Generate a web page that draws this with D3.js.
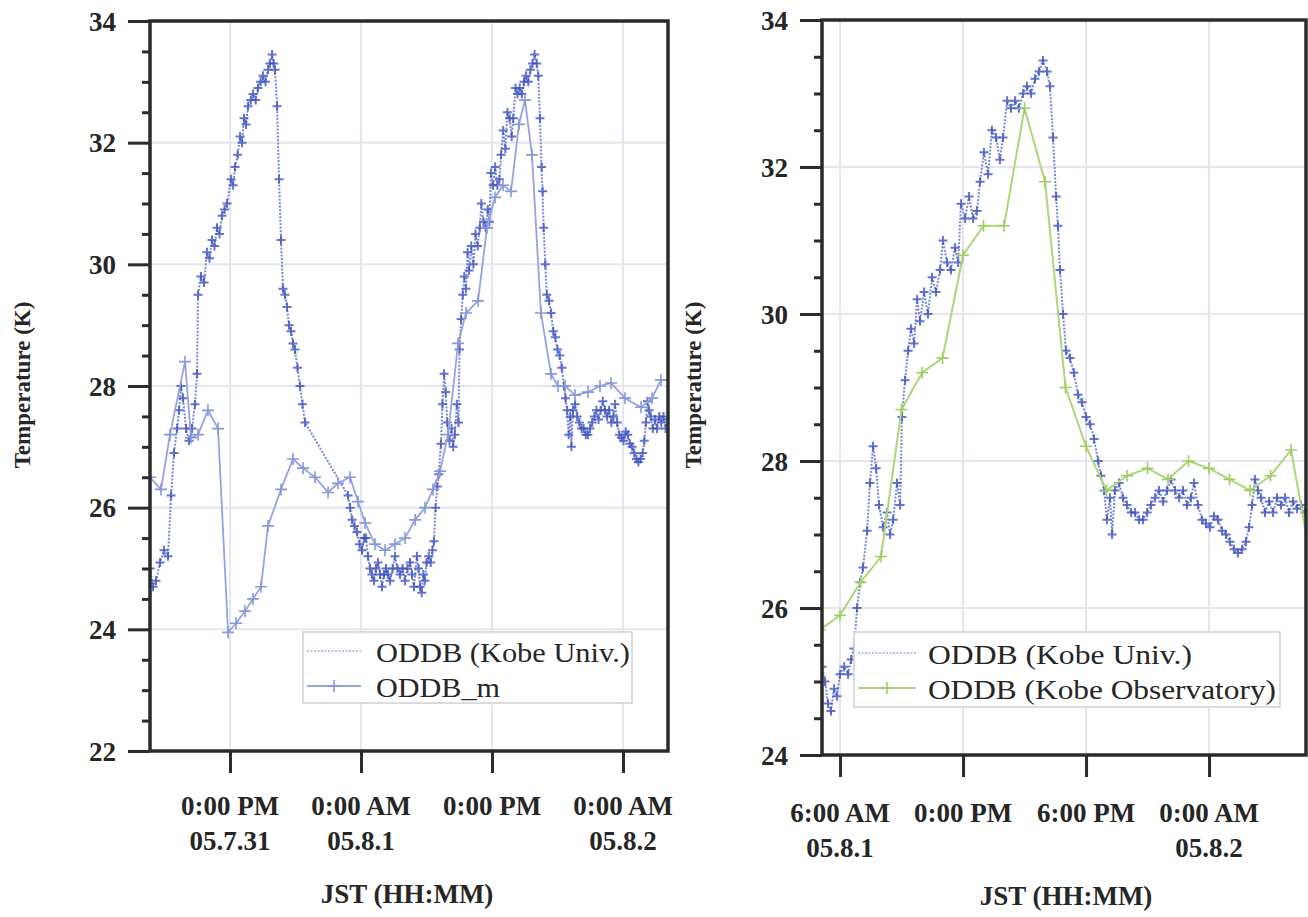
<!DOCTYPE html>
<html>
<head>
<meta charset="utf-8">
<script src="https://cdn.jsdelivr.net/npm/d3@7"></script>
<style>
  html, body { margin: 0; padding: 0; background: #fff; }
  svg { display: block; }
  text { font-family: "Liberation Serif", "Times New Roman", Tinos, serif; fill: #262626; }
  .tick-label { font-size: 27px; font-weight: bold; }
  .axis-title { font-size: 27px; font-weight: bold; }
  .y-title { font-size: 23px; font-weight: bold; }
  .legend-text { font-size: 27px; }
</style>
</head>
<body>
<svg id="chart" width="1308" height="917"></svg>
<script>
// x values are hours counted from 2005-07-31 00:00 JST, y values are temperatures
const kobeUniv = [
  [4.67,25.0],[4.95,24.7],[5.22,24.8],[5.59,25.1],[5.95,25.3],[6.32,25.2],[6.60,26.2],[6.87,26.9],
  [7.15,27.3],[7.33,27.6],[7.51,28.0],[7.69,27.8],[7.97,27.3],[8.24,27.1],[8.52,27.3],[8.79,27.7],
  [8.98,28.2],[9.07,29.5],[9.34,29.8],[9.62,29.7],[9.89,30.2],[10.12,30.1],[10.35,30.4],[10.58,30.3],
  [10.81,30.6],[11.04,30.5],[11.27,30.8],[11.5,30.9],[11.73,31.0],[12.09,31.4],[12.28,31.3],[12.46,31.6],
  [12.7,31.8],[12.92,32.1],[13.1,32.0],[13.28,32.4],[13.47,32.3],[13.65,32.6],[13.9,32.7],[14.11,32.8],
  [14.35,32.7],[14.56,32.9],[14.8,33.0],[15.02,33.1],[15.25,33.0],[15.48,33.2],[15.65,33.3],[15.85,33.45],
  [16.0,33.3],[16.12,33.2],[16.31,32.6],[16.49,31.4],[16.67,30.4],[16.85,29.6],[17.03,29.5],[17.22,29.3],
  [17.4,29.0],[17.59,28.9],[17.77,28.7],[17.95,28.6],[18.18,28.3],[18.41,28.0],[18.64,27.7],[18.87,27.4],
  [22.81,26.2],[23.0,26.0],[23.18,25.8],[23.4,25.7],[23.63,25.6],[23.86,25.4],[24.09,25.3],[24.28,25.5],
  [24.46,25.5],[24.64,25.2],[24.82,25.0],[25.0,24.9],[25.19,24.8],[25.37,25.0],[25.56,25.1],[25.74,24.9],
  [25.92,24.7],[26.1,24.9],[26.29,25.0],[26.47,24.9],[26.66,24.8],[26.89,25.0],[27.11,25.2],[27.34,25.0],
  [27.57,24.9],[27.8,25.0],[28.03,24.8],[28.26,25.0],[28.49,25.1],[28.67,24.9],[28.85,24.7],
  [29.12,25.2],[29.27,25.0],[29.41,24.7],[29.56,24.6],[29.71,24.9],[29.85,24.8],[30.0,25.1],[30.2,25.2],
  [30.39,25.1],[30.54,25.3],[30.68,25.45],[30.83,26.0],[30.98,26.35],[31.12,26.55],[31.32,27.05],[31.46,27.7],
  [31.61,28.2],[31.76,27.9],[31.9,27.4],[32.1,27.1],[32.29,27.3],[32.44,27.0],[32.59,27.2],[32.78,27.7],
  [32.93,27.4],[33.02,28.6],[33.17,29.1],[33.32,29.5],[33.46,29.8],[33.61,29.6],[33.76,30.2],[33.9,29.9],
  [34.1,30.3],[34.29,30.0],[34.49,30.5],[34.68,30.3],[34.88,30.6],[35.02,31.0],[35.22,30.7],[35.41,30.6],
  [35.61,30.9],[35.76,30.7],[35.9,31.5],[36.1,31.3],[36.29,31.6],[36.49,31.3],[36.68,31.4],[36.83,31.8],
  [37.02,32.2],[37.22,31.9],[37.41,32.5],[37.61,32.4],[37.8,32.1],[37.95,32.4],[38.15,32.9],[38.34,32.8],
  [38.54,32.9],[38.73,32.8],[38.93,33.0],[39.12,33.1],[39.32,33.0],[39.51,33.2],[39.71,33.3],[39.9,33.45],
  [40.1,33.3],[40.24,33.1],[40.39,32.4],[40.54,31.6],[40.63,31.2],[40.73,30.6],[40.88,30.0],[41.02,29.5],
  [41.22,29.4],[41.41,29.2],[41.61,28.9],[41.8,28.8],[42.0,28.6],[42.2,28.5],[42.39,28.3],[42.59,28.0],
  [42.73,27.8],[42.88,27.6],[43.02,27.2],[43.17,27.5],[43.27,27.0],[43.41,27.6],[43.61,27.7],[43.8,27.5],
  [44.0,27.4],[44.2,27.3],[44.39,27.3],[44.59,27.2],[44.78,27.2],[44.98,27.3],[45.17,27.4],[45.37,27.5],
  [45.56,27.6],[45.76,27.45],[45.95,27.6],[46.15,27.75],[46.34,27.6],[46.54,27.5],[46.73,27.6],[46.93,27.4],
  [47.12,27.5],[47.27,27.7],[47.46,27.4],[47.66,27.2],[47.85,27.15],[48.05,27.1],[48.24,27.25],[48.44,27.2],
  [48.63,27.05],[48.83,27.0],[49.02,26.9],[49.22,26.8],[49.41,26.75],[49.61,26.8],[49.8,26.9],[49.95,27.1],
  [50.1,27.4],[50.24,27.75],[50.39,27.6],[50.54,27.5],[50.73,27.3],[50.93,27.45],[51.12,27.3],[51.32,27.5],
  [51.51,27.4],[51.71,27.5],[51.9,27.3],[52.1,27.45],[52.29,27.35],[52.49,27.4],[52.68,27.3],[52.88,27.35]
];

const oddbM = [
  [4.67,26.5],[5.68,26.3],[6.50,27.2],[7.88,28.4],[8.43,27.15],[9.07,27.2],[9.98,27.6],[10.90,27.3],
  [11.82,23.95],[12.55,24.1],[13.37,24.3],[14.11,24.5],[14.84,24.7],[15.48,25.7],[16.67,26.3],[17.77,26.8],
  [18.69,26.65],[19.79,26.5],[20.98,26.25],[21.89,26.4],[22.99,26.5],[23.72,26.1],[24.37,25.75],[25.28,25.4],
  [26.20,25.3],[27.11,25.4],[28.03,25.5],[28.95,25.8],[29.86,26.0],[30.59,26.3],[31.24,26.6],[31.97,27.2],
  [32.89,28.7],[33.62,29.2],[34.72,29.4],[35.54,30.6],[36.27,31.1],[37.01,31.3],[37.74,31.2],[38.47,32.3],
  [39.02,32.7],[39.66,31.8],[40.48,29.2],[41.40,28.2],[42.04,28.0],[42.69,28.0],[43.60,27.85],[44.79,27.9],
  [45.89,28.0],[46.90,28.05],[48.18,27.8],[49.65,27.65],[50.66,27.8],[51.48,28.1],[52.12,28.1]
];

const kobeObs = [
  [29,25.7],[30,25.9],[31,26.35],[32,26.7],[33,28.7],[34,29.2],[35,29.4],[36,30.8],[37,31.2],[38,31.2],
  [39,32.8],[40,31.8],[41,29.0],[42,28.2],[43,27.6],[44,27.8],[45,27.9],[46,27.75],[47,28.0],[48,27.9],
  [49,27.75],[50,27.6],[51,27.8],[52,28.15],[53,26.6]
];

const LEFT_X_TICKS = [12, 24, 36, 48];
const LEFT_X_LABELS = [["0:00 PM", "05.7.31"], ["0:00 AM", "05.8.1"], ["0:00 PM", ""], ["0:00 AM", "05.8.2"]];
const RIGHT_X_TICKS = [30, 36, 42, 48];
const RIGHT_X_LABELS = [["6:00 AM", "05.8.1"], ["0:00 PM", ""], ["6:00 PM", ""], ["0:00 AM", "05.8.2"]];
const LEFT_Y_TICKS = [22, 24, 26, 28, 30, 32, 34];
const RIGHT_Y_TICKS = [24, 26, 28, 30, 32, 34];

const AXIS = "#2b2b2b", GRID = "#e4e5ef";
const svg = d3.select("#chart");

const cross = (cx, cy, s) => `M${cx - s},${cy}h${2 * s}M${cx},${cy - s}v${2 * s}`;

function drawPanel(p) {
  const x = d3.scaleLinear().domain(p.xDomain).range(p.xRange);
  const y = d3.scaleLinear().domain(p.yDomain).range(p.yRange);
  const [x0, x1] = p.xRange, [y0, y1] = p.yRange; // y0 bottom, y1 top
  const g = svg.append("g");

  // grid
  g.append("g").selectAll("line").data(p.xTicks).join("line")
    .attr("x1", d => x(d)).attr("x2", d => x(d)).attr("y1", y1).attr("y2", y0)
    .attr("stroke", GRID).attr("stroke-width", 2);
  g.append("g").selectAll("line").data(p.yTicks.slice(1, -1)).join("line")
    .attr("x1", x0).attr("x2", x1).attr("y1", d => y(d)).attr("y2", d => y(d))
    .attr("stroke", GRID).attr("stroke-width", 2);

  // series, clipped to the plot area
  const clipId = "clip-" + p.id;
  svg.append("clipPath").attr("id", clipId).append("rect")
    .attr("x", x0).attr("y", y1).attr("width", x1 - x0).attr("height", y0 - y1);
  const plot = g.append("g").attr("clip-path", `url(#${clipId})`);
  const line = d3.line().x(d => x(d[0])).y(d => y(d[1]));

  p.series.forEach(s => {
    plot.append("path").datum(s.data).attr("d", line)
      .attr("fill", "none").attr("stroke", s.lineColor).attr("stroke-width", s.lineWidth)
      .attr("stroke-dasharray", s.dash || null);
    plot.append("g").selectAll("path").data(s.data).join("path")
      .attr("d", d => cross(x(d[0]), y(d[1]), s.marker))
      .attr("fill", "none").attr("stroke", s.markerColor).attr("stroke-width", s.markerWidth)
      .attr("opacity", s.markerOpacity || 1);
  });

  // frame
  g.append("rect").attr("x", x0).attr("y", y1).attr("width", x1 - x0).attr("height", y0 - y1)
    .attr("fill", "none").attr("stroke", AXIS).attr("stroke-width", 3.5);

  // y axis: major ticks with labels, minor ticks every 0.5
  const yMinor = d3.range(p.yDomain[0], p.yDomain[1], 0.5).filter(v => !p.yTicks.includes(v));
  const yMaj = g.append("g").attr("transform", `translate(${x0},0)`)
    .call(d3.axisLeft(y).tickValues(p.yTicks).tickSize(22).tickPadding(12).tickFormat(d3.format("d")));
  const yMin = g.append("g").attr("transform", `translate(${x0},0)`)
    .call(d3.axisLeft(y).tickValues(yMinor).tickSize(8).tickFormat(""));
  [yMaj, yMin].forEach(a => {
    a.select(".domain").remove();
    a.attr("color", AXIS).selectAll("line").attr("stroke-width", 3);
  });
  yMaj.selectAll("text").attr("class", "tick-label").attr("dy", "0.34em");

  // x axis: ticks below, two-line labels
  const xAx = g.append("g").attr("transform", `translate(0,${y0})`)
    .call(d3.axisBottom(x).tickValues(p.xTicks).tickSize(22).tickFormat(""));
  xAx.select(".domain").remove();
  xAx.attr("color", AXIS).selectAll("line").attr("stroke-width", 3);

  const lab = g.append("g").selectAll("text").data(p.xTicks).join("text")
    .attr("class", "tick-label").attr("text-anchor", "middle");
  lab.append("tspan").attr("x", d => x(d)).attr("y", p.labelY[0]).text((d, i) => p.xLabels[i][0]);
  lab.append("tspan").attr("x", d => x(d)).attr("y", p.labelY[1]).text((d, i) => p.xLabels[i][1]);

  g.append("text").attr("class", "axis-title").attr("text-anchor", "middle")
    .attr("x", p.xTitle[0]).attr("y", p.xTitle[1]).text("JST (HH:MM)");
  g.append("text").attr("class", "y-title").attr("text-anchor", "middle")
    .attr("transform", `translate(${p.yTitle[0]},${p.yTitle[1]}) rotate(-90)`)
    .attr("dy", "0.35em").text("Temperature (K)");

  // legend
  const L = p.legend;
  const lg = g.append("g");
  lg.append("rect").attr("x", L.box[0]).attr("y", L.box[1]).attr("width", L.box[2]).attr("height", L.box[3])
    .attr("fill", "#fff").attr("stroke", "#cfcfd4").attr("stroke-width", 1.5);
  L.items.forEach((it, i) => {
    const s = p.series[i], ly = L.rows[i];
    lg.append("line").attr("x1", L.sample[0]).attr("x2", L.sample[1]).attr("y1", ly).attr("y2", ly)
      .attr("stroke", s.legendColor || s.lineColor).attr("stroke-width", s.legendWidth || s.lineWidth)
      .attr("stroke-dasharray", s.dash || null);
    if (s.legendMarker) {
      lg.append("path").attr("d", cross((L.sample[0] + L.sample[1]) / 2, ly, s.marker))
        .attr("fill", "none").attr("stroke", s.markerColor).attr("stroke-width", s.markerWidth);
    }
    lg.append("text").attr("class", "legend-text").attr("x", L.textX).attr("y", ly + 11)
      .attr("textLength", it.width).attr("lengthAdjust", "spacingAndGlyphs").text(it.label);
  });
}

const univSeries = {
  data: kobeUniv, lineColor: "#7888d4", lineWidth: 2, dash: "2,1.5",
  marker: 4.5, markerColor: "#3f52bf", markerWidth: 2, markerOpacity: 0.8,
  legendColor: "#a3acd8", legendWidth: 1.6, legendMarker: false
};

drawPanel({
  id: "left",
  xDomain: [4.67, 52.12], xRange: [150, 668],
  yDomain: [22, 34], yRange: [751, 21],
  xTicks: LEFT_X_TICKS, xLabels: LEFT_X_LABELS, yTicks: LEFT_Y_TICKS,
  labelY: [815, 850], xTitle: [407, 903], yTitle: [22, 385],
  series: [
    univSeries,
    { data: oddbM, lineColor: "#95a3de", lineWidth: 1.8, marker: 6, markerColor: "#8798da",
      markerWidth: 1.6, legendMarker: true }
  ],
  legend: {
    box: [303, 632, 329, 71], sample: [307, 361], textX: 376, rows: [651, 686],
    items: [{ label: "ODDB (Kobe Univ.)", width: 254 }, { label: "ODDB_m", width: 124 }]
  }
});

drawPanel({
  id: "right",
  xDomain: [29.12, 52.73], xRange: [822, 1306],
  yDomain: [24, 34], yRange: [755, 20],
  xTicks: RIGHT_X_TICKS, xLabels: RIGHT_X_LABELS, yTicks: RIGHT_Y_TICKS,
  labelY: [822, 857], xTitle: [1066, 905], yTitle: [693, 385],
  series: [
    univSeries,
    { data: kobeObs, lineColor: "#acd677", lineWidth: 2, marker: 6, markerColor: "#9fcc66",
      markerWidth: 1.6, legendMarker: true }
  ],
  legend: {
    box: [854, 632, 426, 75], sample: [858, 916], textX: 928, rows: [653, 688],
    items: [{ label: "ODDB (Kobe Univ.)", width: 264 }, { label: "ODDB (Kobe Observatory)", width: 348 }]
  }
});
</script>
</body>
</html>
